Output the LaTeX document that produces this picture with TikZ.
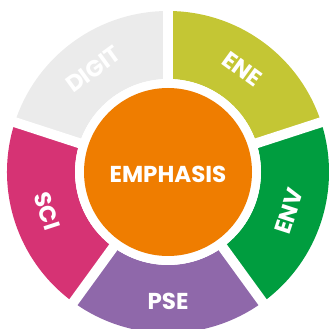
\documentclass[tikz,border=0pt]{standalone}
\usepackage{fontspec}
\setmainfont{Poppins}
\definecolor{cgray}{HTML}{EBEBEB}
\definecolor{colive}{HTML}{C4C634}
\definecolor{cgreen}{HTML}{009D3F}
\definecolor{cpurple}{HTML}{8F68AA}
\definecolor{cpink}{HTML}{D63374}
\definecolor{corange}{HTML}{EF7D00}
\begin{document}
\begin{tikzpicture}[x=1pt,y=1pt,
  lbl/.style={text=white,font=\fontsize{23}{23}\selectfont\bfseries,inner sep=0pt},
  gap/.style={white,line width=10pt}]
\useasboundingbox (0,0) rectangle (329,329);
\clip (0,0) rectangle (329,329);
\coordinate (c) at (168,157);
\def\ri{93}\def\ro{161}
\foreach \a/\b/\col in {90/162/cgray,18/90/colive,-54/18/cgreen,-126/-54/cpurple,162/234/cpink}{
  \fill[\col] ([shift={(\a:\ri)}]c) arc[start angle=\a,end angle=\b,radius=\ri]
    -- ([shift={(\b:\ro)}]c) arc[start angle=\b,end angle=\a,radius=\ro] -- cycle;
}
\foreach \a in {90,18,-54,-126,162}{
  \draw[gap] (c) -- ([shift={(\a:175)}]c);
}
\fill[white] (c) circle[radius=\ri];
\node[circle,fill=corange,minimum size=168pt,inner sep=0pt] (core) at (c) {};
\node[lbl] (emph) at ([yshift=-2pt]c) {EMPHASIS};
\node[lbl,rotate=36] (digit) at ([shift={(126:127)}]c) {DIGIT};
\node[lbl,rotate=-36] (ene) at ([shift={(54:127)}]c) {ENE};
\node[lbl,rotate=72] (env) at ([shift={(-18:127)}]c) {ENV};
\node[lbl] (pse) at ([shift={(-90:129)}]c) {PSE};
\node[lbl,rotate=-72] (sci) at ([shift={(198:127)}]c) {SCI};
\end{tikzpicture}
\end{document}
